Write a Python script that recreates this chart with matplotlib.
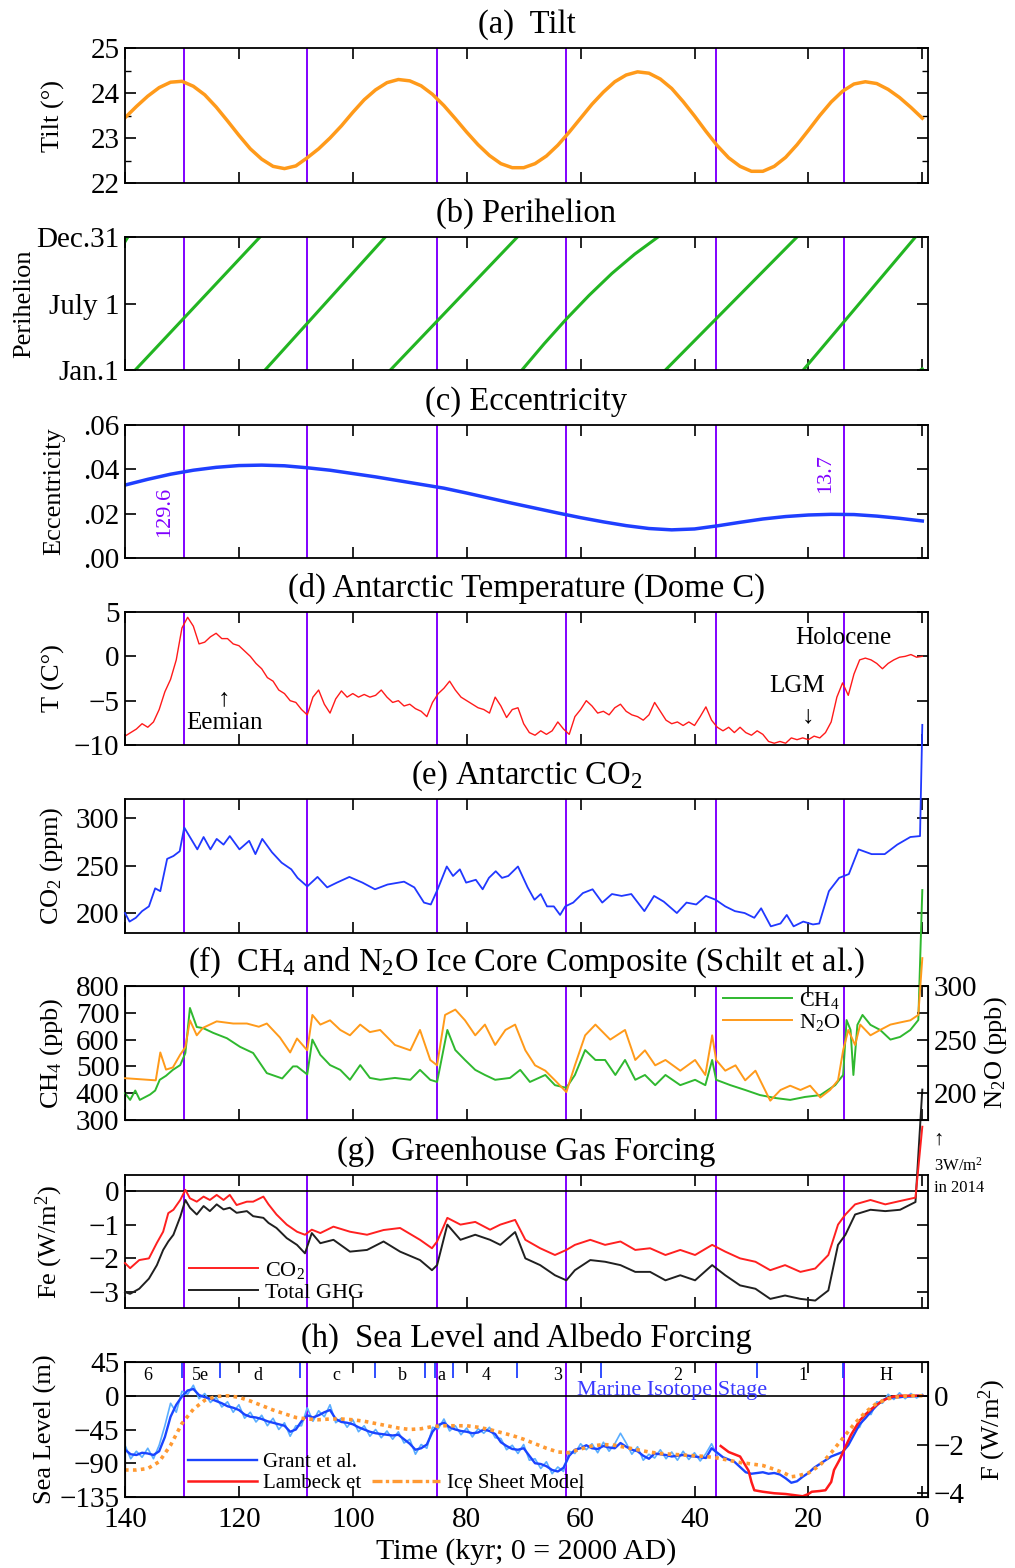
import numpy as np
import matplotlib
matplotlib.use('Agg')
import matplotlib.pyplot as plt
from matplotlib.lines import Line2D

plt.rcParams['font.family'] = ['Liberation Serif', 'DejaVu Serif']
plt.rcParams['mathtext.default'] = 'regular'

# ---- data (kyr before 2000 AD) ----
split_kyr = [129.6, 108.0, 85.2, 62.5, 36.2, 13.7]

tilt_kyr = np.arange(140, -1, -2)
tilt_deg = [23.45, 23.70, 23.93, 24.12, 24.24, 24.26, 24.15, 23.96, 23.69, 23.38,
            23.06, 22.76, 22.53, 22.37, 22.32, 22.38, 22.56, 22.76, 23.00, 23.27,
            23.57, 23.85, 24.07, 24.23, 24.30, 24.27, 24.16, 23.97, 23.72, 23.43,
            23.13, 22.85, 22.61, 22.43, 22.34, 22.34, 22.43, 22.60, 22.84, 23.13,
            23.44, 23.75, 24.02, 24.25, 24.40, 24.47, 24.44, 24.31, 24.10, 23.81,
            23.49, 23.15, 22.83, 22.56, 22.37, 22.26, 22.26, 22.37, 22.57, 22.85,
            23.17, 23.50, 23.80, 24.04, 24.20, 24.25, 24.21, 24.08, 23.90, 23.68,
            23.44]

nan = np.nan
peri_kyr = [140.0, 139.5, nan, 138.2, 116.3, nan, 115.4, 94.3, nan, 93.4, 71.1, nan,
            70.3, 66.4, 62.5, 58.5, 54.5, 50.5, 46.4, nan, 45.1, 22.0, nan, 20.9, 1.2, nan, 0.3, 0.0]
peri_day = [352, 365, nan, 0, 365, nan, 0, 365, nan, 0, 365, nan,
            0, 72, 140, 205, 265, 318, 365, nan, 0, 365, nan, 0, 365, nan, 0, 3]

ecc_kyr = np.arange(140, -1, -4)
ecc = [.0329, .0355, .0378, .0396, .0409, .0417, .0419, .0416, .0407, .0396,
       .0381, .0366, .0349, .0332, .0315, .0293, .0270, .0247, .0225, .0203,
       .0182, .0163, .0146, .0133, .0127, .0131, .0145, .0161, .0176, .0187,
       .0194, .0197, .0196, .0189, .0179, .0167]

temp_kyr = np.arange(140, -1, -1)
temp_c = [-9.0, -8.6, -8.2, -7.6, -8.0, -7.4, -6.0, -4.0, -2.6, -0.4,
          3.2, 4.4, 3.4, 1.4, 1.6, 2.2, 2.6, 2.0, 2.0, 1.4,
          1.2, 0.6, 0.0, -0.8, -1.4, -2.4, -2.8, -3.8, -4.2, -5.0,
          -5.2, -6.0, -6.6, -4.6, -3.8, -5.4, -6.4, -4.8, -3.9, -4.6,
          -4.2, -4.6, -4.3, -4.6, -4.4, -3.8, -4.6, -5.2, -5.0, -5.6,
          -5.4, -5.9, -6.2, -6.8, -5.2, -4.2, -3.6, -2.8, -3.8, -4.6,
          -5.0, -5.4, -5.8, -6.0, -6.4, -4.6, -5.6, -6.9, -6.0, -5.8,
          -7.6, -8.6, -8.9, -8.4, -8.8, -8.4, -7.4, -8.2, -8.8, -6.8,
          -6.0, -5.0, -5.6, -6.4, -6.2, -6.6, -5.8, -5.4, -6.2, -6.6,
          -6.8, -7.2, -6.6, -5.2, -6.2, -7.2, -7.6, -7.4, -7.8, -7.4,
          -7.8, -6.8, -5.7, -7.2, -8.0, -8.4, -8.0, -8.6, -8.0, -8.6,
          -8.9, -8.4, -8.8, -9.6, -9.8, -9.6, -9.8, -9.2, -9.4, -9.2,
          -9.4, -9.0, -9.2, -8.6, -7.4, -4.6, -3.0, -4.4, -2.0, -0.4,
          -0.2, -0.4, -0.8, -1.4, -0.8, -0.4, -0.1, 0.0, 0.2, -0.1,
          0.0]

co2_kyr = [140, 139.2, 138.1, 137, 135.8, 134.7, 133.8, 132.6, 131.5, 130.4,
           129.6, 128.4, 127.3, 126.2, 125, 123.9, 122.7, 121.6, 119.9, 118.2,
           117.1, 115.9, 114.2, 112.5, 110.8, 109.7, 108, 106.2, 104.5, 102.8,
           100.6, 98.3, 96.1, 93.9, 91, 89.2, 87.5, 86.3, 85.1, 83.5,
           82.4, 81.2, 80.1, 78.4, 77.2, 76.1, 74.9, 73.8, 72.7, 71,
           69.3, 68.1, 67, 65.9, 64.7, 63.6, 62.7, 61.3, 59.6, 57.9,
           56.2, 54.5, 52.8, 51.1, 48.8, 47.1, 45.4, 43.1, 41.4, 39.7,
           38, 36.3, 34.6, 32.9, 31.2, 29.5, 28.3, 26.6, 24.9, 23.8,
           22.6, 20.9, 19.2, 18.1, 16.4, 14.6, 12.9, 11.2, 8.9, 6.6,
           4.4, 2.1, 0.4, 0]
co2_ppm = [200, 191, 195, 202, 207, 226, 223, 257, 260, 265,
           290, 278, 267, 280, 267, 278, 272, 281, 267, 276,
           262, 278, 264, 253, 246, 237, 228, 238, 227, 232,
           238, 232, 225, 230, 233, 227, 211, 209, 225, 249,
           239, 246, 232, 235, 225, 237, 244, 237, 239, 249,
           227, 214, 220, 207, 207, 198, 207, 211, 221, 225,
           211, 220, 218, 220, 202, 218, 212, 200, 211, 209,
           218, 214, 207, 202, 200, 195, 205, 186, 189, 198,
           186, 191, 188, 189, 223, 237, 241, 267, 262, 262,
           272, 280, 281, 398]

ch4_kyr = [140, 139.1, 138.2, 137.4, 136.5, 135.6, 134.7, 133.9, 132.8, 131.6,
           130.3, 129.4, 128.6, 127.4, 126.3, 124.5, 122.1, 119.8, 117.5, 115.1,
           112.4, 110.5, 109.8, 108, 107.1, 105.7, 104, 102.2, 100.5, 98.7,
           97, 95.2, 92.6, 89.9, 88.2, 86.4, 85.2, 83.4, 82, 80.3,
           78.5, 76.8, 75, 72.4, 70.6, 68.9, 66.2, 64.5, 62.5, 61,
           59.2, 57.4, 55.7, 53.9, 52.2, 50.4, 48.7, 46.9, 45.1, 42.5,
           39.9, 38.1, 36.9, 36.2, 33.7, 31.1, 28.5, 25.8, 23.2, 20.6,
           17.9, 15.3, 13.9, 13.3, 12.6, 12.1, 11.4, 10.5, 9.1, 7.4,
           5.6, 3.9, 2.1, 0.7, 0]
ch4_ppb = [400, 375, 410, 375, 385, 395, 410, 450, 465, 487,
           505, 550, 718, 647, 643, 625, 605, 573, 550, 475,
           455, 500, 500, 470, 600, 543, 505, 487, 450, 505,
           457, 450, 457, 450, 487, 450, 442, 636, 561, 524,
           487, 468, 450, 457, 487, 442, 468, 430, 420, 468,
           561, 524, 524, 468, 524, 450, 468, 430, 468, 430,
           450, 430, 524, 450, 430, 412, 393, 382, 375, 386,
           393, 430, 468, 673, 636, 468, 655, 692, 655, 636,
           600, 610, 636, 673, 1158]

n2o_kyr = [140, 134.6, 133.8, 132.8, 131.6, 130.3, 129.4, 128.6, 127.4, 126.3,
           123.9, 121, 118.6, 116.5, 115.1, 112.8, 111, 109.8, 108, 107.1,
           105.7, 104, 102.2, 100.5, 98.7, 97, 95.2, 92.6, 89.9, 88.2,
           86.4, 85.2, 83.8, 82, 80.3, 78.5, 76.8, 75, 73.2, 71.5,
           69.7, 68, 66.2, 64.5, 62.5, 61, 59.2, 57.4, 54.8, 52.2,
           50.4, 48.7, 46.9, 45.1, 42.5, 39.9, 38.1, 36.9, 36.2, 34.6,
           32.8, 31.1, 29.3, 26.7, 24.9, 23.2, 21.4, 19.7, 17.9, 16.2,
           14.8, 13.9, 13, 11.8, 10.9, 9.1, 7.4, 5.6, 3.9, 2.1,
           0.7, 0]
n2o_ppb = [214, 212, 238, 222, 224, 236, 243, 268, 254, 261,
           267, 265, 265, 262, 265, 252, 238, 251, 240, 273,
           264, 268, 259, 254, 264, 257, 259, 245, 240, 259,
           231, 226, 273, 278, 268, 254, 264, 245, 259, 264,
           240, 226, 221, 212, 201, 226, 254, 264, 250, 259,
           231, 240, 226, 231, 221, 231, 217, 254, 231, 221,
           226, 212, 221, 193, 203, 207, 203, 207, 196, 203,
           212, 240, 259, 245, 264, 254, 259, 264, 266, 268,
           273, 326]

fe_kyr = [140, 139.1, 137.5, 135.8, 134.4, 133.3, 132.4, 131.5, 130.3, 129.4,
          128.6, 127.4, 126.2, 125.1, 123.9, 122.7, 121.6, 120.4, 118.6, 117.5,
          115.7, 114.8, 113.4, 111.6, 109.8, 108.4, 107.2, 105.7, 103.4, 100.5,
          97.5, 94.6, 91.7, 88.2, 86.1, 85.2, 83.4, 81.1, 78.5, 75.9,
          74.1, 71.5, 69.7, 67.1, 64.5, 62.5, 61, 58.3, 55.7, 53,
          50.4, 47.8, 45.1, 42.5, 39.9, 36.9, 34.6, 32, 29.3, 26.7,
          24.1, 21.4, 18.8, 16.5, 14.8, 13.5, 11.8, 9.1, 6.5, 3.9,
          1.2, 0]
fe_co2 = [-2.14, -2.29, -2.05, -2.0, -1.54, -1.21, -0.66, -0.56, -0.27, 0.03,
          -0.22, -0.32, -0.17, -0.27, -0.12, -0.27, -0.12, -0.42, -0.32, -0.32,
          -0.17, -0.4, -0.7, -1.0, -1.21, -1.3, -1.15, -1.25, -1.06, -1.21,
          -1.3, -1.16, -1.1, -1.45, -1.7, -1.5, -0.8, -1.0, -0.92, -1.15,
          -1.0, -0.86, -1.45, -1.7, -1.9, -1.75, -1.6, -1.45, -1.6, -1.5,
          -1.75, -1.7, -1.9, -1.75, -1.9, -1.6, -1.8, -2.0, -2.1, -2.35,
          -2.2, -2.4, -2.3, -1.9, -1.0, -0.7, -0.4, -0.27, -0.4, -0.3,
          -0.2, 1.9]
fe_ghg = [-3.0, -3.05, -2.9, -2.6, -2.2, -1.75, -1.5, -1.3, -0.77, -0.27,
          -0.5, -0.7, -0.45, -0.6, -0.4, -0.55, -0.5, -0.65, -0.6, -0.75,
          -0.8, -0.95, -1.1, -1.4, -1.6, -1.85, -1.25, -1.55, -1.45, -1.8,
          -1.75, -1.5, -1.8, -2.05, -2.35, -2.2, -1.0, -1.45, -1.3, -1.45,
          -1.6, -1.22, -2.0, -2.2, -2.5, -2.65, -2.35, -2.05, -2.1, -2.2,
          -2.4, -2.4, -2.65, -2.5, -2.65, -2.2, -2.5, -2.8, -2.9, -3.2,
          -3.1, -3.2, -3.25, -2.95, -1.6, -1.3, -0.7, -0.56, -0.6, -0.56,
          -0.33, 3.0]

sl_kyr = np.arange(140, -1, -1)
grant_sl = [-72, -78, -79, -76, -77, -79, -74, -55, -28, -12,
            -1, 7, 9, 1, -2, -4, -7, -10, -14, -16,
            -19, -25, -28, -29, -31, -34, -36, -38, -40, -48,
            -45, -34, -26, -29, -26, -22, -19, -31, -35, -36,
            -38, -42, -45, -48, -50, -51, -52, -53, -52, -58,
            -64, -72, -70, -65, -48, -39, -36, -42, -45, -47,
            -48, -50, -49, -45, -47, -51, -62, -67, -71, -72,
            -70, -80, -90, -91, -94, -99, -101, -96, -80, -72,
            -70, -66, -70, -71, -67, -69, -70, -63, -68, -72,
            -74, -80, -84, -77, -78, -79, -81, -80, -79, -80,
            -81, -82, -83, -70, -76, -82, -85, -88, -95, -102,
            -104, -103, -102, -104, -103, -105, -110, -116, -114, -108,
            -103, -96, -91, -86, -81, -78, -75, -66, -52, -38,
            -30, -21, -13, -6, -3, -2, -2, -1, -1, 0,
            0]
grant_raw = [-66, -84, -74, -82, -70, -84, -66, -40, -10, -22,
             6, 2, 14, -4, 3, -9, -2, -15, -8, -22,
             -12, -30, -22, -35, -26, -40, -30, -45, -36, -54,
             -40, -40, -16, -34, -20, -28, -12, -36, -30, -42,
             -32, -48, -40, -54, -45, -56, -47, -58, -48, -63,
             -58, -78, -65, -70, -42, -44, -31, -47, -40, -52,
             -43, -55, -44, -50, -42, -56, -57, -72, -66, -77,
             -65, -86, -84, -97, -88, -104, -95, -101, -74, -77,
             -64, -72, -64, -76, -62, -74, -64, -50, -63, -78,
             -68, -86, -78, -83, -72, -84, -75, -86, -74, -85,
             -76, -87, -77, -64, -80, nan, nan, nan, nan, nan,
             nan, nan, nan, nan, nan, nan, nan, nan, nan, nan,
             nan, nan, nan, nan, nan, nan, nan, nan, -45, -42,
             -24, -25, -8, -10, 2, -5, 4, -4, 3, -3,
             2]

lambeck_kyr = [35.4, 34, 32, 30.5, 30, 29.5, 28, 26, 24, 22, 21, 20, 19.4, 18, 17,
               16, 15.5, 14.5, 13.5, 12.5, 11, 10, 9, 8, 7, 6, 5, 4, 2, 0]
lambeck_sl = [-67, -75, -81, -100, -115, -126, -128, -130, -131, -133, -134, -131, -128, -127, -126,
              -115, -99, -85, -68, -52, -33, -25, -18, -12, -7, -3, -1, 0, 0, 0]

ice_kyr = [140, 138, 136, 134, 132, 130, 128, 126, 124, 122, 120, 118, 116, 114, 112, 110,
           108, 106, 104, 102, 100, 98, 96, 94, 92, 90, 88, 86, 84, 82, 80, 78, 76, 74,
           72, 70, 68, 66, 64, 62, 60, 58, 56, 54, 52, 50, 48, 46, 44, 42, 40, 38, 36,
           34, 32, 30, 28, 26, 24, 23, 22, 20, 18, 16, 14, 12, 10, 8, 6, 4, 2, 0]
ice_sl = [-99, -99, -97, -88, -66, -37, -18, -6, -1, 0, -2, -7, -13, -19, -24, -29,
          -31, -32, -31, -31, -32, -34, -37, -40, -43, -45, -44, -41, -40, -40, -40, -42, -45, -49,
          -53, -58, -64, -70, -75, -76, -71, -67, -65, -66, -69, -72, -75, -77, -78, -79, -80, -81, -83,
          -86, -89, -91, -93, -98, -104, -108, -107, -103, -93, -76, -57, -38, -22, -10, -4, -1, 0, 0]

mis_bounds = [130, 123.3, 109.3, 96.1, 87.3, 85.5, 82.4, 71.2, 56.5, 29, 14]
mis_label_kyr = [136, 126.8, 116.6, 102.8, 91.3, 84.5, 76.6, 64.1, 43, 20.9, 6.3]
mis_labels = ['6', '5e', 'd', 'c', 'b', 'a', '4', '3', '2', '1', 'H']

# ---- layout ----
VIOLET = '#8000ff'
FS_TICK = 21
FS_LAB = 19
FS_TITLE = 23.5

fig = plt.figure(figsize=(10.15, 15.68), dpi=100)
panel_px = [(48, 183), (237, 370), (425, 558), (612, 745),
            (799, 933), (986, 1120), (1175, 1308), (1362, 1497)]
axes = []
for top, bot in panel_px:
    axes.append(fig.add_axes([125 / 1015, 1 - bot / 1568, 803 / 1015, (bot - top) / 1568]))


def style(ax, right=True):
    ax.set_xlim(140, -1)
    ax.set_xticks(np.arange(0, 141, 20))
    ax.tick_params(direction='in', top=True, right=right, length=8, width=1.2,
                   labelsize=FS_TICK, pad=4)
    ax.tick_params(which='minor', direction='in', right=right, length=4, width=1)
    ax.tick_params(axis='x', labelbottom=False, pad=7)
    for s in ax.spines.values():
        s.set_linewidth(1.3)
    for k in split_kyr:
        ax.axvline(k, color=VIOLET, lw=1.4, zorder=1)


def ylab(ax, text, x=-0.075):
    ax.set_ylabel(text, fontsize=FS_LAB)
    ax.yaxis.set_label_coords(x, 0.5)


def title(ax, text):
    ax.set_title(text, fontsize=FS_TITLE, pad=11)


# (a) tilt
ax = axes[0]
style(ax)
ax.plot(tilt_kyr, tilt_deg, color='#ff9a1a', lw=2.5)
ax.set_ylim(22, 25)
ax.set_yticks([22, 23, 24, 25])
ax.set_yticks([22.5, 23.5, 24.5], minor=True)
title(ax, '(a)  Tilt')
ylab(ax, 'Tilt (°)')

# (b) perihelion
ax = axes[1]
style(ax)
ax.plot(peri_kyr, peri_day, color='#22b522', lw=2.2)
ax.set_ylim(0, 365)
ax.set_yticks([0, 182, 365])
ax.set_yticklabels(['Jan.1', 'July 1', 'Dec.31'])
title(ax, '(b) Perihelion')
ylab(ax, 'Perihelion', -0.112)

# (c) eccentricity
ax = axes[2]
style(ax)
ax.plot(ecc_kyr, ecc, color='#1f3fff', lw=2.5)
ax.set_ylim(0, 0.06)
ax.set_yticks([0, 0.02, 0.04, 0.06])
ax.set_yticklabels(['.00', '.02', '.04', '.06'])
title(ax, '(c) Eccentricity')
ylab(ax, 'Eccentricity')
ax.text(133.0, 0.0207, '129.6', rotation=90, color=VIOLET, fontsize=16, ha='center', va='center')
ax.text(16.9, 0.0383, '13.7', rotation=90, color=VIOLET, fontsize=16, ha='center', va='center')

# (d) temperature
ax = axes[3]
style(ax)
ax.plot(temp_kyr, temp_c, color='#ff1a1a', lw=1.0)
ax.set_ylim(-10, 5)
ax.set_yticks([-10, -5, 0, 5])
title(ax, '(d) Antarctic Temperature (Dome C)')
ylab(ax, 'T (C°)')
ax.text(122.6, -7.5, 'Eemian', fontsize=18, ha='center', va='center')
ax.text(122.6, -4.8, '↑', fontsize=18, ha='center', va='center')
ax.text(13.9, 2.1, 'Holocene', fontsize=18, ha='center', va='center')
ax.text(22.0, -3.3, 'LGM', fontsize=18, ha='center', va='center')
ax.text(20.0, -6.8, '↓', fontsize=18, ha='center', va='center')

# (e) CO2
ax = axes[4]
style(ax)
ax.plot(co2_kyr, co2_ppm, color='#2038ff', lw=1.3, clip_on=False, zorder=5)
ax.set_ylim(179, 320)
ax.set_yticks([200, 250, 300])
title(ax, '(e) Antarctic CO$_2$')
ylab(ax, 'CO$_2$ (ppm)')

# (f) CH4 and N2O
ax = axes[5]
style(ax, right=False)
ax2 = ax.twinx()
ax2.set_xlim(140, -1)
l1, = ax.plot(ch4_kyr, ch4_ppb, color='#2fb82f', lw=1.4, clip_on=False, zorder=5)
l2, = ax2.plot(n2o_kyr, n2o_ppb, color='#ff9a1a', lw=1.4, clip_on=False, zorder=5)
ax.set_ylim(300, 800)
ax.set_yticks(np.arange(300, 801, 100))
ax2.set_ylim(175, 300)
ax2.set_yticks([200, 250, 300])
ax2.set_yticks([175, 225, 275], minor=True)
ax2.tick_params(direction='in', length=8, width=1.2, labelsize=FS_TICK, pad=4)
ax2.tick_params(which='minor', direction='in', length=8, width=1.2)
title(ax, '(f)  CH$_4$ and N$_2$O Ice Core Composite (Schilt et al.)')
ylab(ax, 'CH$_4$ (ppb)')
ax2.set_ylabel('N$_2$O (ppb)', fontsize=FS_LAB)
ax2.yaxis.set_label_coords(1.068, 0.5)
ax2.legend([l1, l2], ['CH$_4$', 'N$_2$O'], loc='upper left', bbox_to_anchor=(0.72, 1.12),
           frameon=False, fontsize=16, handlelength=3.1, labelspacing=0.05, handletextpad=0.3)

# (g) forcing
ax = axes[6]
style(ax)
ax.axhline(0, color='black', lw=1.2)
g1, = ax.plot(fe_kyr, fe_co2, color='#ff2020', lw=1.4, clip_on=False, zorder=5)
g2, = ax.plot(fe_kyr, fe_ghg, color='#202020', lw=1.4, clip_on=False, zorder=4)
ax.set_ylim(-3.47, 0.47)
ax.set_yticks([-3, -2, -1, 0])
title(ax, '(g)  Greenhouse Gas Forcing')
ylab(ax, 'Fe (W/m$^2$)')
ax.legend([g1, g2], ['CO$_2$', 'Total GHG'], loc='lower left', bbox_to_anchor=(0.055, -0.11),
          frameon=False, fontsize=16, handlelength=3.1, labelspacing=0.05, handletextpad=0.3)
fig.text(0.919, 1 - 1140 / 1568, '↑', fontsize=15, ha='left', va='center')
fig.text(0.920, 1 - 1166 / 1568, '3W/m$^2$', fontsize=12, ha='left', va='center')
fig.text(0.920, 1 - 1188 / 1568, 'in 2014', fontsize=12, ha='left', va='center')

# (h) sea level
ax = axes[7]
style(ax, right=False)
ax.axhline(0, color='black', lw=1.2)
ax.plot(sl_kyr, grant_raw, color='#5aaeff', lw=1.2)
h1, = ax.plot(sl_kyr, grant_sl, color='#1a44ff', lw=1.7)
h2, = ax.plot(lambeck_kyr, lambeck_sl, color='#ff1a1a', lw=1.8)
h3, = ax.plot(ice_kyr, ice_sl, color='#ff9a33', lw=2.6, ls=(0, (1, 1.2)))
ax.set_ylim(-135, 45)
ax.set_yticks([-135, -90, -45, 0, 45])
ax.tick_params(axis='x', labelbottom=True)
ax.set_xticklabels([str(v) for v in np.arange(0, 141, 20)])
ax.set_xlabel('Time (kyr; 0 = 2000 AD)', fontsize=21.5, labelpad=4)
title(ax, '(h)  Sea Level and Albedo Forcing')
ylab(ax, 'Sea Level (m)', -0.085)
ax.vlines(mis_bounds, 0.88, 1.0, transform=ax.get_xaxis_transform(), color='#2040ff', lw=1.3)
for k, s in zip(mis_label_kyr, mis_labels):
    ax.text(k, 27, s, fontsize=13, ha='center', va='center')
ax.text(43.9, 7, 'Marine Isotope Stage', color='#3a3aff', fontsize=16, ha='center', va='center')
blank = Line2D([], [], color='none')
h3l = Line2D([], [], color='#ff9a33', lw=2.4, ls=(0, (3, 1, 1, 1)))
ax.legend([h1, h2, blank, h3l], ['Grant et al.', 'Lambeck et', '', 'Ice Sheet Model'], ncol=2,
          loc='lower left', bbox_to_anchor=(0.055, -0.11), frameon=False, fontsize=15,
          handlelength=3.3, labelspacing=0.05, handletextpad=0.3, columnspacing=0.5)
ax3 = ax.twinx()
ax3.set_xlim(140, -1)
ax3.set_ylim(-135 * 0.0307, 45 * 0.0307)
ax3.set_yticks([-4, -2, 0])
ax3.tick_params(direction='in', length=8, width=1.2, labelsize=FS_TICK, pad=4)
ax3.set_ylabel('F (W/m$^2$)', fontsize=FS_LAB)
ax3.yaxis.set_label_coords(1.06, 0.5)

fig.savefig('out.png', dpi=100)
